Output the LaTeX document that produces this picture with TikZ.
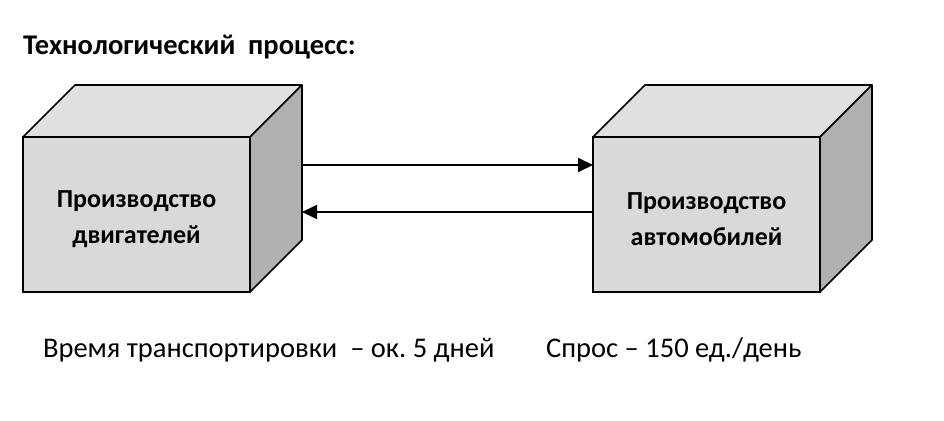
\documentclass[tikz,border=0pt]{standalone}
\usepackage{fontspec}
\setmainfont{Carlito}
\usetikzlibrary{arrows.meta}

\definecolor{frontgray}{HTML}{D9D9D9}
\definecolor{topgray}{HTML}{DFDFDF}
\definecolor{sidegray}{HTML}{B0B0B0}

\tikzset{
  front/.style={draw, fill=frontgray, line width=1.6pt, inner sep=0pt, outer sep=0pt,
    minimum width=227pt, minimum height=155pt, align=center,
    font=\fontsize{26}{36}\selectfont\bfseries},
  edge/.style={draw, line width=1.6pt, line join=round},
  arr/.style={-{Triangle[length=15pt,width=14pt]}, line width=1.8pt},
  plain/.style={inner sep=0pt, font=\fontsize{28.5}{34}\selectfont}
}

\begin{document}
\frenchspacing
\begin{tikzpicture}[x=1pt,y=-1pt]
        \useasboundingbox (0,0) rectangle (944,420);

        \node[plain, anchor=base west, font=\fontsize{28.5}{34}\selectfont\bfseries] (title) at (23,55) {Технологический\ \ процесс:};

        % left cube
        \node[front] (eng) at (136.5,214.5) {};
        \draw[edge, fill=topgray] (eng.north west) -- ++(52,-52) -- ++(227,0) -- (eng.north east) -- cycle;
        \draw[edge, fill=sidegray] (eng.north east) -- ++(52,-52) -- ++(0,155) -- (eng.south east) -- cycle;
        \node[front, draw=none, fill=none, minimum height=0pt, minimum width=0pt] (englbl) at (136.5,219) {Производство\\двигателей};

        % right cube
        \node[front] (car) at (706.5,214.5) {};
        \draw[edge, fill=topgray] (car.north west) -- ++(52,-52) -- ++(227,0) -- (car.north east) -- cycle;
        \draw[edge, fill=sidegray] (car.north east) -- ++(52,-52) -- ++(0,155) -- (car.south east) -- cycle;
        \node[front, draw=none, fill=none, minimum height=0pt, minimum width=0pt] (carlbl) at (706.5,219) {Производство\\автомобилей};

        \draw[arr] ([xshift=52pt,yshift=49.5pt]eng.east) -- ([yshift=49.5pt]car.west);
        \draw[arr] ([yshift=2.5pt]car.west) -- ([xshift=52pt,yshift=2.5pt]eng.east);

        \node[plain, anchor=base west] (time) at (43,357) {Время транспортировки\ \ – ок. 5 дней};
        \node[plain, anchor=base west] (demand) at (546,357) {Спрос – 150 ед./день};
    \end{tikzpicture}
\end{document}
